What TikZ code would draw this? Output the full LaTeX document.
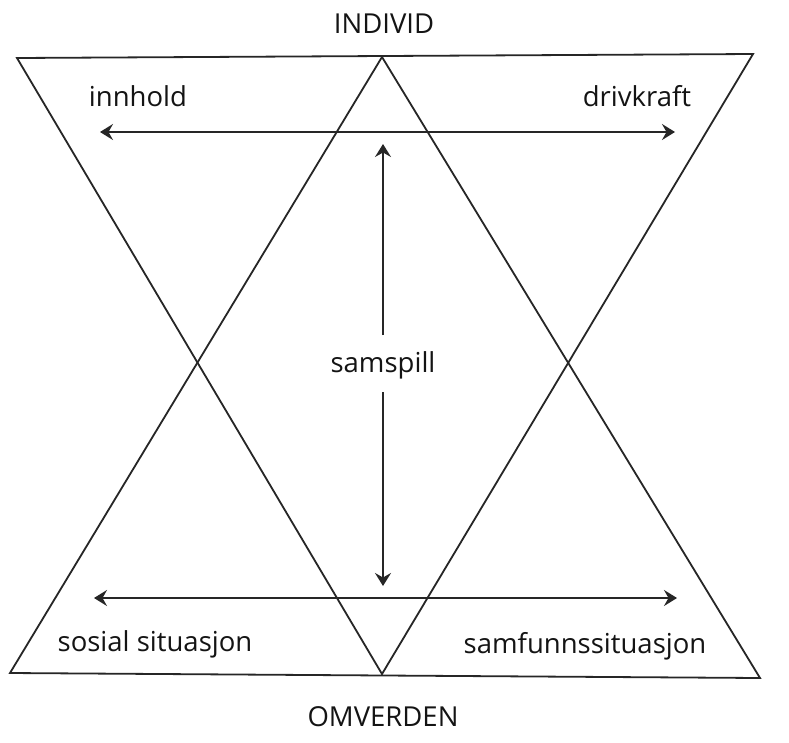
\documentclass[tikz,border=0pt]{standalone}
\usepackage{fontspec}
\setmainfont{Open Sans}
\usetikzlibrary{arrows.meta}
\tikzset{
  edge/.style={line width=1.8pt, black!85},
  dblarrow/.style={line width=1.8pt, black!85, {Stealth[length=13pt,width=16pt,inset=4.5pt]}-{Stealth[length=13pt,width=16pt,inset=4.5pt]}},
  onearrow/.style={line width=1.8pt, black!85, -{Stealth[length=13pt,width=16pt,inset=4.5pt]}},
  lbl/.style={font=\fontsize{27.5}{32}\selectfont, inner sep=0pt, anchor=base, text=black!92}
}
\begin{document}
\begin{tikzpicture}[x=1pt,y=-1pt]
\useasboundingbox (0,0) rectangle (789,742);
\fill[white] (0,0) rectangle (789,742);
% triangle corners
\coordinate (TL) at (17,58);
\coordinate (TR) at (753,54);
\coordinate (BA) at (382,674);
\coordinate (TA) at (382,57);
\coordinate (BL) at (10,673);
\coordinate (BR) at (760,678);
\draw[edge, line join=miter] (TL) -- (TR) -- (BA) -- cycle;
\draw[edge, line join=miter] (TA) -- (BR) -- (BL) -- cycle;
% labels
\node[lbl] (individ) at (384,33) {INDIVID};
\node[lbl] (omverden) at (383,726) {OMVERDEN};
\node[lbl] (innhold) at (138,106) {innhold};
\node[lbl] (drivkraft) at (637,106) {drivkraft};
\node[lbl] (samspill) at (383,372) {samspill};
\node[lbl] (sosial) at (155,651) {sosial situasjon};
\node[lbl] (samfunn) at (585,653) {samfunnssituasjon};
% arrow end points
\coordinate (a1l) at (100,132);
\coordinate (a1r) at (675,132);
\coordinate (a2l) at (94,598);
\coordinate (a2r) at (677,598);
\coordinate (vt) at (383,144);
\coordinate (vb) at (383,586);
\draw[dblarrow] (a1l) -- (a1r);
\draw[dblarrow] (a2l) -- (a2r);
\draw[onearrow] (samspill.north |- 0,335) -- (vt);
\draw[onearrow] (samspill.south |- 0,392) -- (vb);
\end{tikzpicture}
\end{document}
